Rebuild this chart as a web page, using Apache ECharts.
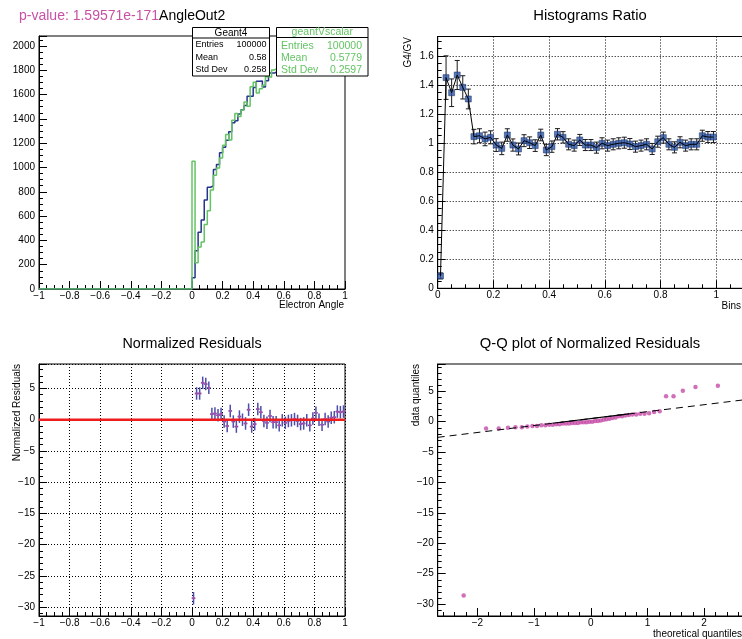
<!DOCTYPE html>
<html>
<head>
<meta charset="utf-8">
<script src="https://cdn.jsdelivr.net/npm/echarts@6/dist/echarts.min.js"></script>
<style>
  html, body { margin: 0; padding: 0; background: #fff; }
  #chart { width: 742px; height: 639px; }
</style>
</head>
<body>
<div id="chart"></div>
<script>
// ---- data ----
// filled bins start at 0 with width 0.02 (the range -1..0 is empty)
const binLo = 0, binW = 0.02;

const geant4 = [93, 315, 466, 568, 732, 837, 848, 984, 1024, 1121, 1167, 1225, 1294, 1368, 1385, 1441, 1476,
  1511, 1587, 1586, 1659, 1709, 1712, 1662, 1714, 1778, 1777, 1792, 1791, 1833, 1833, 1854, 1872, 1888, 1889,
  1866, 1880, 1894, 1869, 1922, 1952, 1912, 1895, 1932, 1913, 1923, 1925, 1984, 1977, 1978];
const geantV = [1052, 217, 345, 386, 530, 644, 815, 937, 996, 1079, 1183, 1271, 1227, 1388, 1444, 1419, 1474,
  1539, 1504, 1665, 1701, 1612, 1648, 1677, 1746, 1742, 1803, 1818, 1849, 1837, 1867, 1870, 1876, 1884, 1903,
  1914, 1914, 1912, 1947, 1904, 1882, 1930, 1953, 1922, 1947, 1941, 1943, 1889, 1898, 1899];

const ratio = [0.085, 1.45, 1.346, 1.468, 1.383, 1.303, 1.044, 1.05, 1.028, 1.039, 0.986, 0.963, 1.055, 0.986,
  0.959, 1.016, 1.002, 0.982, 1.055, 0.952, 0.975, 1.06, 1.039, 0.991, 0.982, 1.021, 0.986, 0.986, 0.968, 0.998,
  0.982, 0.991, 0.998, 1.002, 0.993, 0.975, 0.982, 0.991, 0.959, 1.009, 1.037, 0.991, 0.970, 1.005, 0.982, 0.991,
  0.991, 1.05, 1.041, 1.041];
const ratioErr = [0.02, 0.15, 0.095, 0.1, 0.08, 0.068, 0.05, 0.048, 0.047, 0.045, 0.044, 0.043, 0.043, 0.042,
  0.041, 0.041, 0.04, 0.04, 0.04, 0.039, 0.039, 0.039, 0.039, 0.038, 0.038, 0.038, 0.038, 0.038, 0.038, 0.038,
  0.038, 0.038, 0.038, 0.038, 0.038, 0.038, 0.038, 0.038, 0.038, 0.038, 0.038, 0.038, 0.038, 0.038, 0.038, 0.038,
  0.038, 0.038, 0.038, 0.038];

const residuals = [-28.6, 4.2, 4.2, 5.9, 5.7, 5.1, 0.9, 1.0, 0.7, 0.9, -0.3, -1.0, 1.4, -0.3, -1.1, 0.5, 0.0,
  -0.6, 1.6, -1.1, -0.7, 1.7, 1.2, -0.2, -0.5, 0.6, -0.4, -0.4, -0.9, -0.1, -0.5, -0.2, -0.1, 0.1, -0.2, -0.7,
  -0.6, -0.1, -0.9, 0.2, 1.1, 0.0, -0.8, 0.1, -0.3, 0.3, 0.4, 1.3, 1.2, 1.3];
const residualErr = 1;

const qqTheory = [-2.242, -1.847, -1.624, -1.460, -1.328, -1.216, -1.118, -1.029, -0.948, -0.872, -0.802, -0.734,
  -0.671, -0.610, -0.551, -0.493, -0.438, -0.383, -0.330, -0.278, -0.227, -0.176, -0.125, -0.075, -0.025,
  0.025, 0.075, 0.125, 0.176, 0.227, 0.278, 0.330, 0.383, 0.438, 0.493, 0.551, 0.610, 0.671, 0.734, 0.802,
  0.872, 0.948, 1.029, 1.118, 1.216, 1.328, 1.460, 1.624, 1.847, 2.242];
const qqData = [-28.6, -1.1, -1.1, -1.0, -0.9, -0.9, -0.8, -0.7, -0.7, -0.6, -0.6, -0.5, -0.5, -0.4, -0.4,
  -0.3, -0.3, -0.3, -0.2, -0.2, -0.2, -0.1, -0.1, -0.1, 0.0, 0.0, 0.1, 0.1, 0.2, 0.3, 0.4, 0.5, 0.6, 0.7,
  0.9, 0.9, 1.0, 1.1, 1.2, 1.2, 1.3, 1.3, 1.4, 1.6, 1.7, 4.2, 4.2, 5.1, 5.7, 5.9];
// reference line through the quartile points
const qqQ1 = [-0.674, -0.26], qqQ3 = [0.674, 1.28];

const g4Stats = [['Entries', '100000'], ['Mean', '0.58'], ['Std Dev', '0.258']];
const gvStats = [['Entries', '100000'], ['Mean', '0.5779'], ['Std Dev', '0.2597']];

// ---- helpers ----
const FONT = 'Liberation Sans, Arial, Helvetica, sans-serif';
const BLUE = '#26338c', GREEN = '#63c463', PINK = '#c64ba8';

function histPoints(vals) {
  const pts = [[-1, 0]];
  vals.forEach((v, i) => pts.push([binLo + i * binW, v]));
  pts.push([binLo + vals.length * binW, vals[vals.length - 1]]);
  return pts;
}
const centers = ratio.map((_, i) => binLo + (i + 0.5) * binW);

function fmtStep(step) {
  return v => {
    const k = v / step;
    if (Math.abs(k - Math.round(k)) > 1e-6) return '';
    return String(+(Math.round(k) * step).toFixed(4)).replace('-', '\u2212');
  };
}

function axis(dim, gi, min, max, step, minor, opts) {
  const a = {
    type: 'value', gridIndex: gi, min: min, max: max,
    axisLine: { show: true, onZero: false, lineStyle: { color: '#000', width: 1 } },
    axisTick: { show: true, inside: true, length: 8, lineStyle: { color: '#000', width: 1 } },
    minorTick: { show: true, splitNumber: minor, length: 4, lineStyle: { color: '#000', width: 1 } },
    axisLabel: { color: '#000', fontSize: 10, fontFamily: FONT, margin: dim === 'x' ? 2 : 4,
      formatter: fmtStep(step) },
    splitLine: { show: false }
  };
  return Object.assign(a, opts || {});
}
const dotted = { splitLine: { show: true, lineStyle: { color: '#000', width: 1, type: [1, 2] } } };

function text(x, y, str, size, color, align, extra) {
  return Object.assign({
    type: 'text', x: x, y: y, z: 100,
    style: { text: str, fill: color || '#000', font: size + 'px ' + FONT, align: align || 'left',
      verticalAlign: 'middle' }
  }, extra || {});
}
function vtext(x, y, str) {
  return text(x, y, str, 10, '#000', 'right', { rotation: Math.PI / 2 });
}

function statBox(x, y, w, h, lineY, title, rows, color, size, titleSize, padL, padR, rowYs, titleY) {
  const els = [
    { type: 'rect', z: 99, shape: { x: x, y: y, width: w, height: h },
      style: { fill: '#fff', stroke: '#000', lineWidth: 1 } },
    { type: 'line', z: 100, shape: { x1: x, y1: lineY, x2: x + w, y2: lineY },
      style: { stroke: '#000', lineWidth: 1 } },
    text(x + w / 2, titleY, title, titleSize, color, 'center')
  ];
  rows.forEach((r, i) => {
    els.push(text(x + padL, rowYs[i], r[0], size, color, 'left'));
    els.push(text(x + w - padR, rowYs[i], r[1], size, color, 'right'));
  });
  return els;
}

// ---- chart ----
const chart = echarts.init(document.getElementById('chart'), null, { renderer: 'canvas' });

const grids = [
  { left: 39, top: 36, width: 306, height: 253 },
  { left: 437.7, top: 36.5, width: 305, height: 251.8 },
  { left: 39, top: 364, width: 306, height: 252 },
  { left: 437.7, top: 364, width: 305, height: 252 }
].map(g => Object.assign(g, { show: true, borderColor: '#000', borderWidth: 1,
  backgroundColor: 'transparent', containLabel: false, outerBoundsMode: 'none' }));

const qqLineAt = x => qqQ1[1] + (x - qqQ1[0]) * (qqQ3[1] - qqQ1[1]) / (qqQ3[0] - qqQ1[0]);
const qqMin = -2.70, qqMax = 2.68;

const option = {
  animation: false,
  backgroundColor: '#fff',
  textStyle: { fontFamily: FONT },
  grid: grids,
  xAxis: [
    axis('x', 0, -1, 1, 0.2, 4, { interval: 0.2 }),
    axis('x', 1, 0, 1.095, 0.2, 4, Object.assign({ interval: 0.2 }, dotted)),
    axis('x', 2, -1, 1, 0.2, 4, Object.assign({ interval: 0.2 }, dotted)),
    axis('x', 3, qqMin, qqMax, 1, 5, { splitNumber: 5 })
  ],
  yAxis: [
    axis('y', 0, 0, 2082, 200, 4, { interval: 200 }),
    axis('y', 1, 0, 1.733, 0.2, 4, Object.assign({ interval: 0.2 }, dotted)),
    axis('y', 2, -31.44, 8.92, 5, 5, Object.assign({ splitNumber: 8 }, dotted)),
    axis('y', 3, -31.96, 9.49, 5, 5, { splitNumber: 8 })
  ],
  series: [
    { type: 'line', xAxisIndex: 0, yAxisIndex: 0, step: 'end', showSymbol: false, symbol: 'none',
      data: histPoints(geant4), lineStyle: { color: BLUE, width: 1.5 } },
    { type: 'line', xAxisIndex: 0, yAxisIndex: 0, step: 'end', showSymbol: false, symbol: 'none',
      data: histPoints(geantV), lineStyle: { color: GREEN, width: 1.5 } },

    { type: 'line', xAxisIndex: 1, yAxisIndex: 1, showSymbol: false, symbol: 'none',
      data: centers.map((x, i) => [x, ratio[i]]), lineStyle: { color: '#000', width: 1 } },
    { type: 'custom', xAxisIndex: 1, yAxisIndex: 1,
      data: centers.map((x, i) => [x, ratio[i], ratioErr[i]]),
      renderItem: (params, api) => {
        const x = api.value(0), y = api.value(1), e = api.value(2);
        const t = api.coord([x, y + e]), b = api.coord([x, y - e]);
        const st = { stroke: '#1a1a1a', lineWidth: 1 };
        return { type: 'group', children: [
          { type: 'line', shape: { x1: t[0], y1: t[1], x2: b[0], y2: b[1] }, style: st },
          { type: 'line', shape: { x1: t[0] - 2.5, y1: t[1], x2: t[0] + 2.5, y2: t[1] }, style: st },
          { type: 'line', shape: { x1: b[0] - 2.5, y1: b[1], x2: b[0] + 2.5, y2: b[1] }, style: st }
        ] };
      } },
    { type: 'scatter', xAxisIndex: 1, yAxisIndex: 1, symbol: 'rect', symbolSize: 6,
      data: centers.map((x, i) => [x, ratio[i]]),
      itemStyle: { color: '#2a55a6', borderColor: '#15285a', borderWidth: 0.6 } },

    { type: 'custom', xAxisIndex: 2, yAxisIndex: 2,
      data: centers.map((x, i) => [x, residuals[i]]),
      renderItem: (params, api) => {
        const x = api.value(0), y = api.value(1);
        const l = api.coord([x - 0.012, y]), r = api.coord([x + 0.012, y]);
        const t = api.coord([x, y + residualErr]), b = api.coord([x, y - residualErr]);
        const st = { stroke: '#4d4dab', lineWidth: 1.5 };
        return { type: 'group', children: [
          { type: 'line', shape: { x1: l[0], y1: l[1], x2: r[0], y2: r[1] }, style: st },
          { type: 'line', shape: { x1: t[0], y1: t[1], x2: b[0], y2: b[1] }, style: st }
        ] };
      } },
    { type: 'scatter', xAxisIndex: 2, yAxisIndex: 2, symbolSize: 2.5,
      data: centers.map((x, i) => [x, residuals[i]]), itemStyle: { color: PINK } },
    { type: 'line', xAxisIndex: 2, yAxisIndex: 2, showSymbol: false, symbol: 'none',
      data: [[-1, 0], [1, 0]], lineStyle: { color: '#ee1c1c', width: 2.5 } },

    { type: 'line', xAxisIndex: 3, yAxisIndex: 3, showSymbol: false, symbol: 'none',
      data: [[qqMin, qqLineAt(qqMin)], [qqMax, qqLineAt(qqMax)]],
      lineStyle: { color: '#000', width: 1, type: [7, 5] } },
    { type: 'line', xAxisIndex: 3, yAxisIndex: 3, showSymbol: false, symbol: 'none',
      data: [qqQ1, qqQ3], lineStyle: { color: '#000', width: 1.2 } },
    { type: 'scatter', xAxisIndex: 3, yAxisIndex: 3, symbolSize: 4.5,
      data: qqTheory.map((x, i) => [x, qqData[i]]), itemStyle: { color: PINK } }
  ],
  graphic: [].concat(
    [{
      type: 'text', x: 19, y: 16, z: 100,
      style: {
        text: '{a|p-value: 1.59571e-171}{b|AngleOut2}', verticalAlign: 'middle',
        rich: {
          a: { fill: '#c850a5', font: '14px ' + FONT },
          b: { fill: '#000', font: '14px ' + FONT }
        }
      }
    }],
    [
      text(590, 16, 'Histograms Ratio', 14.8, '#000', 'center'),
      text(192, 344, 'Normalized Residuals', 14.3, '#000', 'center'),
      text(590, 344, 'Q-Q plot of Normalized Residuals', 14.8, '#000', 'center'),
      text(344, 305, 'Electron Angle', 10, '#000', 'right'),
      text(741, 306, 'Bins', 10, '#000', 'right'),
      text(742, 634, 'theoretical quantiles', 10, '#000', 'right'),
      vtext(408.5, 37, 'G4/GV'),
      vtext(17.5, 364, 'Normalized Residuals'),
      vtext(416.5, 364, 'data quantiles')
    ],
    statBox(192.5, 27.5, 77, 48.5, 38, 'Geant4', g4Stats, '#000', 9, 10, 3, 3,
      [45, 57.7, 70], 32.8),
    statBox(276.5, 27.5, 91.5, 48.5, 37.5, 'geantVscalar', gvStats, GREEN, 10.5, 10.5, 4.5, 6,
      [45.7, 58.3, 70.3], 32)
  )
};

chart.setOption(option);
</script>
</body>
</html>
